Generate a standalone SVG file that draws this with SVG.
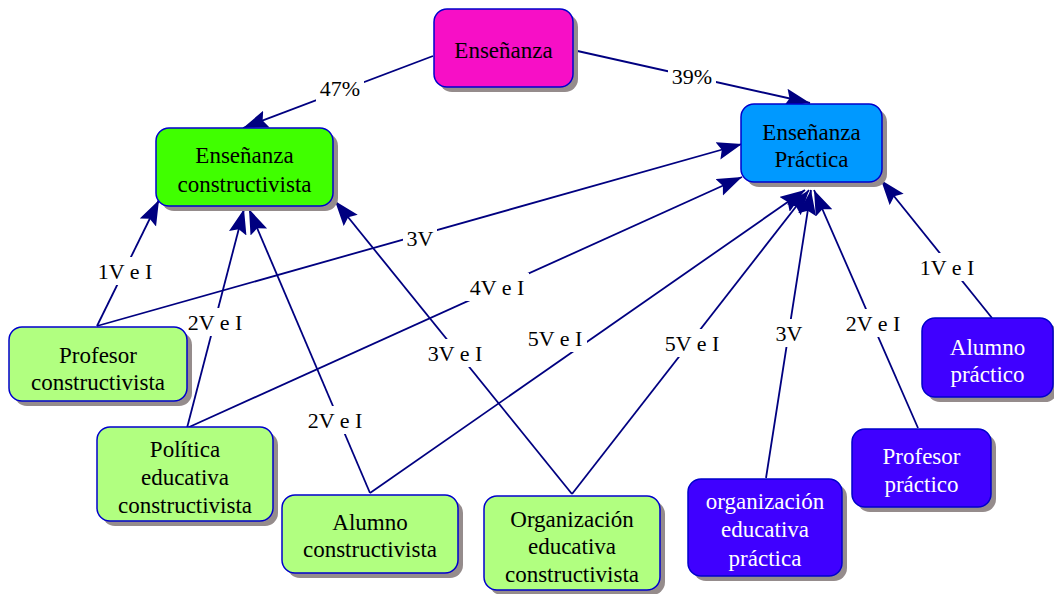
<svg xmlns="http://www.w3.org/2000/svg" width="1054" height="594" viewBox="0 0 1054 594">
<defs>
<marker id="arr" markerUnits="userSpaceOnUse" markerWidth="28" markerHeight="20" refX="25" refY="9" orient="auto">
<path d="M0,0 L25,9 L0,18 L4,9 z" fill="#000080"/>
</marker>
</defs>
<style>
.sh{fill:#958c8c}
.box{stroke:#0000cc;stroke-width:1.5}
.t{font-family:'Liberation Serif','Times New Roman',serif;font-size:23px;text-anchor:middle;fill:#000}
.w{fill:#fff}
.c{fill:none;stroke:#000080;stroke-width:1.8;marker-end:url(#arr)}
.lb{fill:#fff}
.lt{font-family:'Liberation Serif','Times New Roman',serif;font-size:22px;text-anchor:middle;fill:#000}
</style>
<rect width="1054" height="594" fill="#fff"/>
<g id="connectors">
<path class="c" d="M433,56 L243,128"/>
<path class="c" d="M573,50 L810,103"/>
<path class="c" d="M97,326 L159,200"/>
<path class="c" d="M97,326 L742,144"/>
<path class="c" d="M187,428 L244,209"/>
<path class="c" d="M187,428 L742,177"/>
<path class="c" d="M370,493 L249,209"/>
<path class="c" d="M370,493 L805,190"/>
<path class="c" d="M572,494 L335,201"/>
<path class="c" d="M572,494 L809,190"/>
<path class="c" d="M766,478 L811,190"/>
<path class="c" d="M918,428 L814,190"/>
<path class="c" d="M992,318 L881,180"/>
<g id="labels">
<rect class="lb" x="316" y="74" width="48" height="28"/><text class="lt" x="340" y="96">47%</text>
<rect class="lb" x="668" y="62" width="48" height="28"/><text class="lt" x="692" y="84">39%</text>
<rect class="lb" x="93" y="257" width="64" height="28"/><text class="lt" x="125" y="279">1V e I</text>
<rect class="lb" x="403" y="224" width="34" height="28"/><text class="lt" x="420" y="246">3V</text>
<rect class="lb" x="183" y="308" width="64" height="28"/><text class="lt" x="215" y="330">2V e I</text>
<rect class="lb" x="465" y="273" width="64" height="28"/><text class="lt" x="497" y="295">4V e I</text>
<rect class="lb" x="303" y="406" width="64" height="28"/><text class="lt" x="335" y="428">2V e I</text>
<rect class="lb" x="523" y="324" width="64" height="28"/><text class="lt" x="555" y="346">5V e I</text>
<rect class="lb" x="423" y="339" width="64" height="28"/><text class="lt" x="455" y="361">3V e I</text>
<rect class="lb" x="660" y="329" width="64" height="28"/><text class="lt" x="692" y="351">5V e I</text>
<rect class="lb" x="772" y="319" width="34" height="28"/><text class="lt" x="789" y="341">3V</text>
<rect class="lb" x="841" y="309" width="64" height="28"/><text class="lt" x="873" y="331">2V e I</text>
<rect class="lb" x="915" y="253" width="64" height="28"/><text class="lt" x="947" y="275">1V e I</text>
</g>
</g>
<g id="n-ensenanza">
<rect class="sh" x="439" y="14" width="139" height="78" rx="13"/>
<rect class="box" x="434" y="9" width="139" height="78" rx="13" fill="#f70fc6"/>
<text class="t" x="503.5" y="58">Enseñanza</text>
</g>
<g id="n-ens-constructivista">
<rect class="sh" x="161" y="133" width="177" height="78" rx="13"/>
<rect class="box" x="156" y="128" width="177" height="78" rx="13" fill="#40ff00"/>
<text class="t" x="244.5" y="163">Enseñanza</text>
<text class="t" x="244.5" y="192">constructivista</text>
</g>
<g id="n-ens-practica">
<rect class="sh" x="746" y="109" width="141" height="78" rx="13"/>
<rect class="box" x="741" y="104" width="141" height="78" rx="13" fill="#0099ff"/>
<text class="t" x="811.5" y="140">Enseñanza</text>
<text class="t" x="811.5" y="167">Práctica</text>
</g>
<g id="n-profesor-c">
<rect class="sh" x="14" y="332" width="178" height="74" rx="13"/>
<rect class="box" x="9" y="327" width="178" height="74" rx="13" fill="#b1ff80"/>
<text class="t" x="98" y="363">Profesor</text>
<text class="t" x="98" y="390">constructivista</text>
</g>
<g id="n-politica">
<rect class="sh" x="102" y="432" width="176" height="94" rx="13"/>
<rect class="box" x="97" y="427" width="176" height="94" rx="13" fill="#b1ff80"/>
<text class="t" x="185" y="457">Política</text>
<text class="t" x="185" y="485">educativa</text>
<text class="t" x="185" y="513">constructivista</text>
</g>
<g id="n-alumno-c">
<rect class="sh" x="287" y="500" width="176" height="78" rx="13"/>
<rect class="box" x="282" y="495" width="176" height="78" rx="13" fill="#b1ff80"/>
<text class="t" x="370" y="530">Alumno</text>
<text class="t" x="370" y="557">constructivista</text>
</g>
<g id="n-organizacion-c">
<rect class="sh" x="489" y="501" width="176" height="94" rx="13"/>
<rect class="box" x="484" y="496" width="176" height="94" rx="13" fill="#b1ff80"/>
<text class="t" x="572" y="527">Organización</text>
<text class="t" x="572" y="554">educativa</text>
<text class="t" x="572" y="582">constructivista</text>
</g>
<g id="n-organizacion-p">
<rect class="sh" x="693" y="484" width="154" height="97" rx="13"/>
<rect class="box" x="688" y="479" width="154" height="97" rx="13" fill="#3f00ff"/>
<text class="t w" x="765" y="509">organización</text>
<text class="t w" x="765" y="537">educativa</text>
<text class="t w" x="765" y="566">práctica</text>
</g>
<g id="n-profesor-p">
<rect class="sh" x="857" y="434" width="139" height="78" rx="13"/>
<rect class="box" x="852" y="429" width="139" height="78" rx="13" fill="#3f00ff"/>
<text class="t w" x="921.5" y="464">Profesor</text>
<text class="t w" x="921.5" y="492">práctico</text>
</g>
<g id="n-alumno-p">
<rect class="sh" x="927" y="323" width="131" height="79" rx="13"/>
<rect class="box" x="922" y="318" width="131" height="79" rx="13" fill="#3f00ff"/>
<text class="t w" x="987.5" y="355">Alumno</text>
<text class="t w" x="987.5" y="382">práctico</text>
</g>
</svg>
